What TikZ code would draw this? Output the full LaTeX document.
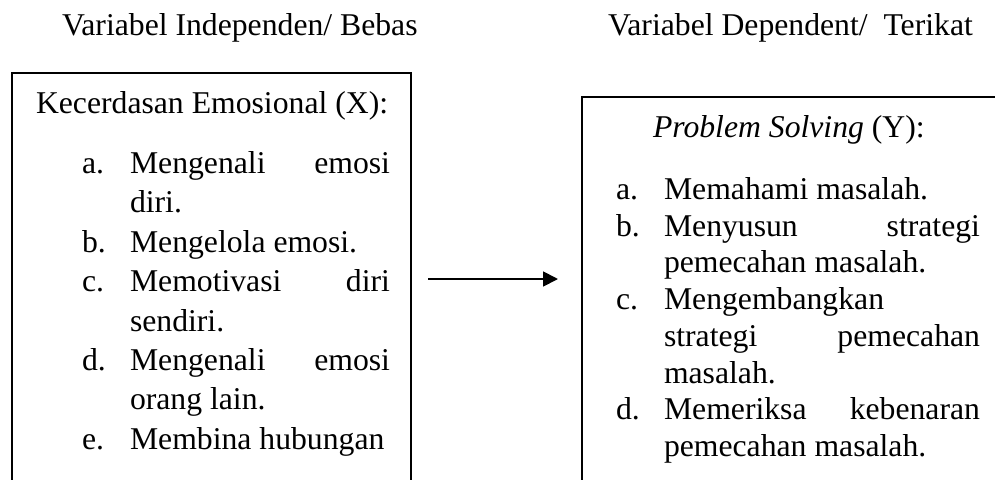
\documentclass[tikz,border=0pt]{standalone}
\usepackage{fontspec}
\setmainfont{Liberation Serif}
\usetikzlibrary{arrows.meta}
\newcommand\fsz{\fontsize{31.7}{38}\selectfont}
\newcommand\jline[2]{\hbox to #1{#2}}
\begin{document}
\begin{tikzpicture}[x=1pt,y=1pt,
  txt/.style={inner sep=0pt, outer sep=0pt, anchor=base west, font=\fsz},
  box/.style={draw, line width=1.8pt, inner sep=0pt, outer sep=0pt, anchor=north west},
  arr/.style={line width=1.8pt, -{Triangle[length=15pt,width=15pt]}}]
\useasboundingbox (0,0) rectangle (995,-479);
% titles
\node[txt] (t1) at (62,-35) {Variabel Independen/ Bebas};
\node[txt] (t2) at (608,-35) {Variabel Dependent/\ \ Terikat};
% boxes (cut off by the page edge)
\node[box, minimum width=399pt, minimum height=440pt] (L) at (12,-73) {};
\node[box, minimum width=500pt, minimum height=420pt] (R) at (582,-97) {};
% left box text
\node[txt] (lh) at (36,-113) {Kecerdasan Emosional (X):};
\node[txt] (la) at (82,-173.5) {a.};
\node[txt] (la1) at (130,-173.5) {\jline{260pt}{Mengenali\hfill emosi}};
\node[txt] (la2) at (130,-212.9) {diri.};
\node[txt] (lb) at (82,-252.3) {b.};
\node[txt] (lb1) at (130,-252.3) {Mengelola emosi.};
\node[txt] (lc) at (82,-291.7) {c.};
\node[txt] (lc1) at (130,-291.7) {\jline{260pt}{Memotivasi\hfill diri}};
\node[txt] (lc2) at (130,-331.1) {sendiri.};
\node[txt] (ld) at (82,-370.5) {d.};
\node[txt] (ld1) at (130,-370.5) {\jline{260pt}{Mengenali\hfill emosi}};
\node[txt] (ld2) at (130,-409.9) {orang lain.};
\node[txt] (le) at (82,-449.3) {e.};
\node[txt] (le1) at (130,-449.3) {Membina hubungan};
% right box text
\node[txt] (rh) at (653,-137) {\textit{Problem Solving} (Y):};
\node[txt] (ra) at (616,-199.5) {a.};
\node[txt] (ra1) at (664,-199.5) {Memahami masalah.};
\node[txt] (rb) at (616,-236.2) {b.};
\node[txt] (rb1) at (664,-236.2) {\jline{316pt}{Menyusun\hfill strategi}};
\node[txt] (rb2) at (664,-272.9) {pemecahan masalah.};
\node[txt] (rc) at (616,-309.6) {c.};
\node[txt] (rc1) at (664,-309.6) {Mengembangkan};
\node[txt] (rc2) at (664,-346.3) {\jline{316pt}{strategi\hfill pemecahan}};
\node[txt] (rc3) at (664,-383) {masalah.};
\node[txt] (rd) at (616,-419.7) {d.};
\node[txt] (rd1) at (664,-419.7) {\jline{316pt}{Memeriksa\hfill kebenaran}};
\node[txt] (rd2) at (664,-456.4) {pemecahan masalah.};
% arrow
\coordinate (ay) at (0,-279);
\draw[arr, shorten <=17pt, shorten >=24pt] (L.east |- ay) -- (R.west |- ay);
\end{tikzpicture}
\end{document}
